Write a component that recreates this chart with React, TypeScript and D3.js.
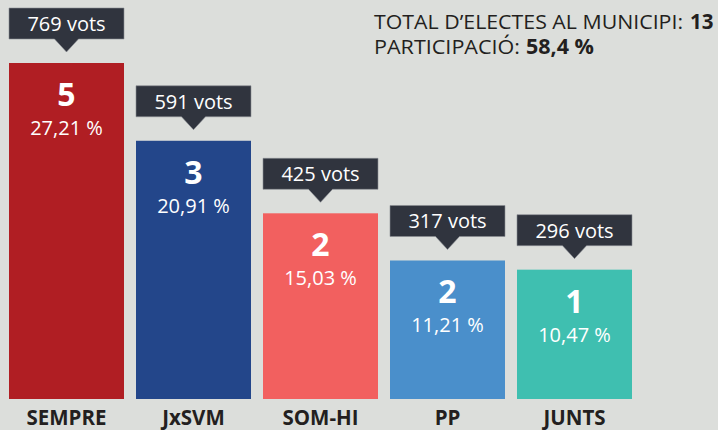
import React from "react";
import * as d3 from "d3";

const parties = ["SEMPRE", "JxSVM", "SOM-HI", "PP", "JUNTS"];
const votes = [769, 591, 425, 317, 296];
const seats = [5, 3, 2, 2, 1];
const percents = ["27,21 %", "20,91 %", "15,03 %", "11,21 %", "10,47 %"];
const colors = ["#b01e23", "#23468a", "#f2605f", "#4a8fcb", "#3fbfb0"];

const W = 718;
const H = 430;
const FONT = "'Open Sans', 'Noto Sans', sans-serif";

export default function App() {
  const x = d3.scaleBand<string>().domain(parties).range([9, 632]).paddingInner(0.0945).paddingOuter(0);
  const y = d3.scaleLinear().domain([0, 769]).range([399, 63]);
  const bw = x.bandwidth();
  return (
    <div style={{ position: "fixed", left: 0, top: 0, width: W, height: H }}>
      <svg width={W} height={H} style={{ display: "block" }} fontFamily={FONT}>
        <rect x={0} y={0} width={W} height={H} fill="#dcdedb" />
        {parties.map((p, i) => {
          const x0 = x(p)!;
          const cx = x0 + bw / 2;
          const top = y(votes[i]);
          const boxTop = top - 55;
          const boxBot = top - 24;
          const tip = top - 11;
          return (
            <g key={p}>
              <rect x={x0} y={top} width={bw} height={y(0) - top} fill={colors[i]} />
              <path
                d={`M${x0},${boxTop}H${x0 + bw}V${boxBot}H${cx + 12}L${cx},${tip}L${cx - 12},${boxBot}H${x0}Z`}
                fill="#30343e"
                stroke="#8a8d93"
                strokeWidth={0.6}
              />
              <text x={cx} y={boxBot - 8} textAnchor="middle" fill="#fff" fontSize={20}>
                {votes[i]} vots
              </text>
              <text x={cx} y={top + 43} textAnchor="middle" fill="#fff" fontSize={32} fontWeight="bold">
                {seats[i]}
              </text>
              <text x={cx} y={top + 72} textAnchor="middle" fill="#fff" fontSize={20}>
                {percents[i]}
              </text>
              <text x={cx} y={425} textAnchor="middle" fill="#231f20" fontSize={20.5} fontWeight="bold">
                {p}
              </text>
            </g>
          );
        })}
        <text x={374} y={29} fill="#231f20" fontSize={20.5} textLength={309} lengthAdjust="spacingAndGlyphs">
          TOTAL D’ELECTES AL MUNICIPI:
        </text>
        <text x={690} y={29} fill="#231f20" fontSize={20.5} fontWeight="bold">
          13
        </text>
        <text x={374} y={54} fill="#231f20" fontSize={20.5} textLength={146} lengthAdjust="spacingAndGlyphs">
          PARTICIPACIÓ:
        </text>
        <text x={526} y={54} fill="#231f20" fontSize={20.5} fontWeight="bold" textLength={68} lengthAdjust="spacingAndGlyphs">
          58,4 %
        </text>
      </svg>
    </div>
  );
}
